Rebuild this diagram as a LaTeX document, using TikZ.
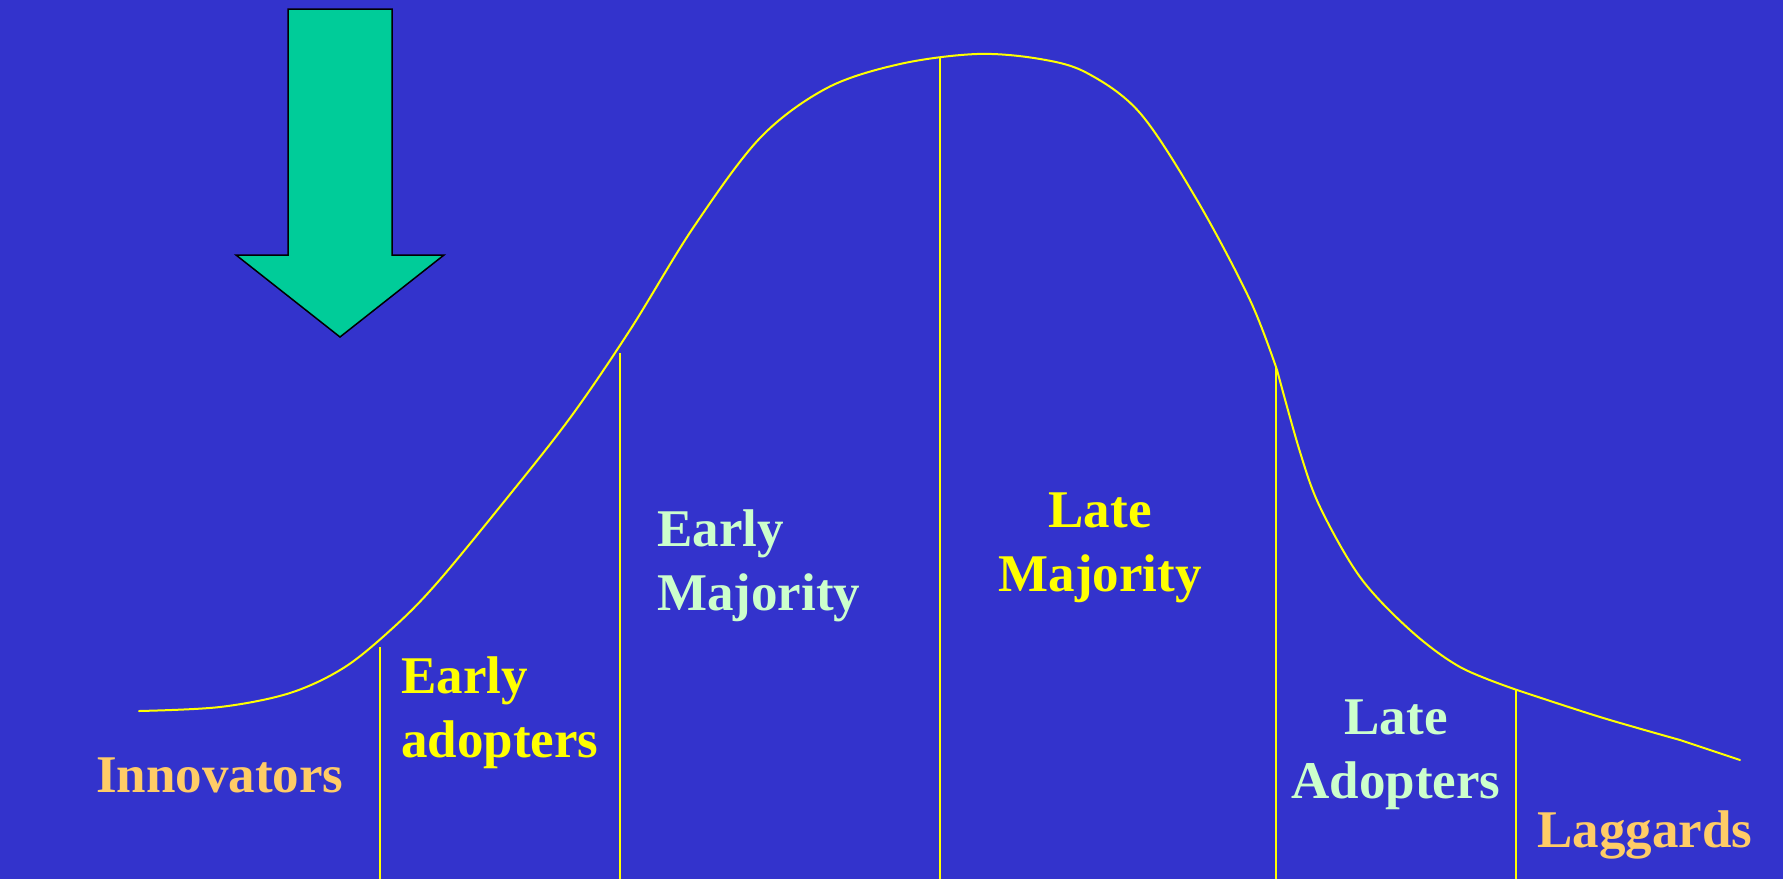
\documentclass[tikz,border=0pt]{standalone}
\usepackage{fontspec}
\setmainfont{Liberation Serif}
\definecolor{bg}{HTML}{3333CC}
\definecolor{arrowgreen}{HTML}{00CC99}
\definecolor{curveyellow}{HTML}{FFFF00}
\definecolor{lightgreen}{HTML}{CCFFCC}
\definecolor{lightorange}{HTML}{FFCC66}
\begin{document}
\begin{tikzpicture}[x=1pt,y=-1pt,
  curve/.style={curveyellow, line width=2pt, line join=round, line cap=round},
  divider/.style={curveyellow, line width=2pt},
  bigarrow/.style={fill=arrowgreen, draw=black, line width=1.5pt, line join=miter},
  lbl/.style={inner sep=0pt, font=\bfseries\fontsize{53}{64}\selectfont},
]
\fill[bg] (0,0) rectangle (1783,879);
\useasboundingbox (0,0) rectangle (1783,879);

% big green arrow
\draw[bigarrow] (288,9) -- (392,9) -- (392,255) -- (444,255) -- (340,337)
  -- (236,255) -- (288,255) -- cycle;

% adoption curve
\draw[curve]
  plot[smooth, tension=0.55] coordinates {
    (139,711) (220,707) (290,693) (345,667) (395,626) (437,583)
    (503,503) (570,418) (630,330) (693,228) (760,138) (827,88)
    (900,64) (977,54) (1040,59) (1087,73) (1140,113) (1197,200)
    (1250,300) (1277,370)}
  -- plot[smooth, tension=0.55] coordinates {
    (1277,370) (1300,452) (1320,507) (1360,577) (1410,630)
    (1460,667) (1517,690)}
  -- plot[smooth, tension=0.55] coordinates {
    (1517,690) (1600,717) (1680,740)}
  -- (1740,760);

% dividers
\coordinate (t1) at (380,647);  \coordinate (b1) at (380,879);
\coordinate (t2) at (620,353);  \coordinate (b2) at (620,879);
\coordinate (t3) at (940,58);   \coordinate (b3) at (940,879);
\coordinate (t4) at (1276,368); \coordinate (b4) at (1276,879);
\coordinate (t5) at (1516,690); \coordinate (b5) at (1516,879);
\draw[divider] (t1) -- (b1);
\draw[divider] (t2) -- (b2);
\draw[divider] (t3) -- (b3);
\draw[divider] (t4) -- (b4);
\draw[divider] (t5) -- (b5);

% labels (multi-line nodes are anchored at the baseline of their last line)
\node[lbl, text=lightorange, anchor=base west] (innov) at (96,792) {Innovators};
\node[lbl, text=curveyellow, anchor=base west, align=left] (early) at (401,757) {Early\\adopters};
\node[lbl, text=lightgreen, anchor=base west, align=left] (emaj) at (657,610) {Early\\Majority};
\node[lbl, text=curveyellow, anchor=base, align=center] (lmaj) at (1100,591) {Late\\Majority};
\node[lbl, text=lightgreen, anchor=base, align=center] (lado) at (1396,798) {Late\\Adopters};
\node[lbl, text=lightorange, anchor=base west] (lag) at (1537,847) {Laggards};
\end{tikzpicture}
\end{document}
